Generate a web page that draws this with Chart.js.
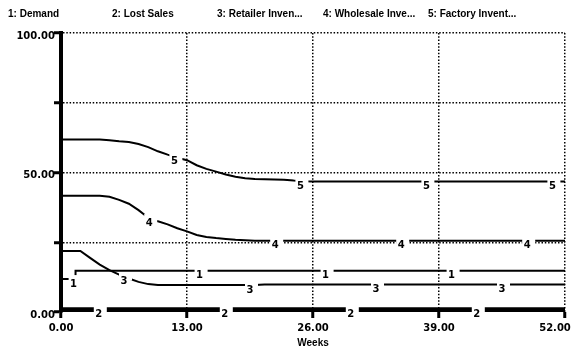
<!DOCTYPE html>
<html><head><meta charset="utf-8">
<script src="https://cdn.jsdelivr.net/npm/chart.js@4/dist/chart.umd.min.js"></script>
<style>html,body{margin:0;padding:0;background:#fff;}#wrap{width:573px;height:352px;position:relative;}</style>
</head><body><div id="wrap"><canvas id="c" width="573" height="352"></canvas></div>
<script>
const legendLabels = ['1: Demand','2: Lost Sales','3: Retailer Inven...','4: Wholesale Inve...','5: Factory Invent...'];
const weeks = [0,1,2,3,4,5,6,7,8,9,10,11,12,13,14,15,16,17,18,19,20,21,22,23,24,25,26,27,28,29,30,31,32,33,34,35,36,37,38,39,40,41,42,43,44,45,46,47,48,49,50,51,52];
const demand = [11.8,11.8,14.8,14.8,14.8,14.8,14.8,14.8,14.8,14.8,14.8,14.8,14.8,14.8,14.8,14.8,14.8,14.8,14.8,14.8,14.8,14.8,14.8,14.8,14.8,14.8,14.8,14.8,14.8,14.8,14.8,14.8,14.8,14.8,14.8,14.8,14.8,14.8,14.8,14.8,14.8,14.8,14.8,14.8,14.8,14.8,14.8,14.8,14.8,14.8,14.8,14.8,14.8];
const lostSales = [0.8,0.8,0.8,0.8,0.8,0.8,0.8,0.8,0.8,0.8,0.8,0.8,0.8,0.8,0.8,0.8,0.8,0.8,0.8,0.8,0.8,0.8,0.8,0.8,0.8,0.8,0.8,0.8,0.8,0.8,0.8,0.8,0.8,0.8,0.8,0.8,0.8,0.8,0.8,0.8,0.8,0.8,0.8,0.8,0.8,0.8,0.8,0.8,0.8,0.8,0.8,0.8,0.8];
const retailerInv = [21.9,21.9,21.9,19.4,17.0,15.0,13.4,12.0,10.8,10.0,9.7,9.7,9.7,9.7,9.7,9.7,9.7,9.7,9.7,9.7,9.7,9.9,9.9,9.9,9.9,9.9,9.9,9.9,9.9,9.9,9.9,9.9,9.9,9.9,9.9,9.9,9.9,9.9,9.9,9.9,9.9,9.9,9.9,9.9,9.9,9.9,9.9,9.9,9.9,9.9,9.9,9.9,9.9];
const wholesaleInv = [41.7,41.7,41.7,41.7,41.7,41.3,40.2,38.8,36.5,33.8,32.5,31.4,30.0,28.9,27.6,26.9,26.5,26.2,25.9,25.7,25.5,25.5,25.5,25.5,25.5,25.5,25.5,25.5,25.5,25.5,25.5,25.5,25.5,25.5,25.5,25.5,25.5,25.5,25.5,25.5,25.5,25.5,25.5,25.5,25.5,25.5,25.5,25.5,25.5,25.5,25.5,25.5,25.5];
const factoryInv = [61.8,61.8,61.8,61.8,61.8,61.6,61.2,60.9,60.2,59.1,57.6,56.4,55.3,54.4,52.6,51.3,50.3,49.3,48.5,47.9,47.7,47.6,47.5,47.4,47.1,46.9,46.8,46.8,46.8,46.8,46.8,46.8,46.8,46.8,46.8,46.8,46.8,46.8,46.8,46.8,46.8,46.8,46.8,46.8,46.8,46.8,46.8,46.8,46.8,46.8,46.8,46.8,46.8];
const seriesMarkers = ['1','2','3','4','5'];
const xTicks = [0,13,26,39,52];
const yTicks = [0,25,50,75,100];

const seriesList = [demand, lostSales, retailerInv, wholesaleInv, factoryInv];
function pts(arr){ return weeks.map((w,i)=>({x:w,y:arr[i]})); }

const numFont = {family:'"DejaVu Sans"', size:10, weight:'bold'};

const markerPlugin = {
  id:'markers',
  afterDatasetsDraw(chart){
    const {ctx, scales:{x,y}} = chart;
    ctx.save();
    ctx.font = 'bold 10px "DejaVu Sans"';
    ctx.textAlign = 'center';
    ctx.textBaseline = 'middle';
    seriesList.forEach((arr, i) => {
      const ds = chart.data.datasets[i];
      for (let j = 0; j < 4; j++) {
        const t = 1.3 + 2.6 * i + 13 * j;
        const k = Math.floor(t), f = t - k;
        let v;
        if (ds.stepped) v = f < 0.5 ? arr[k] : arr[k+1];
        else v = arr[k] + f * (arr[k+1] - arr[k]);
        const px = x.getPixelForValue(t), py = y.getPixelForValue(v);
        ctx.fillStyle = '#fff';
        ctx.fillRect(px - 5, py - 4, 13, 8);
        ctx.fillStyle = '#000';
        ctx.fillText(seriesMarkers[i], px, py + 5);
      }
    });
    ctx.restore();
  },
  afterDraw(chart){
    const ctx = chart.ctx;
    ctx.save();
    ctx.font = 'bold 10px "Liberation Sans"';
    ctx.fillStyle = '#000';
    ctx.textBaseline = 'middle';
    ctx.textAlign = 'left';
    const xs = [8,112,217,323,428];
    legendLabels.forEach((s,i)=>ctx.fillText(s, xs[i], 14));
    ctx.restore();
  }
};

new Chart(document.getElementById('c'), {
  type:'line',
  data:{
    datasets: seriesList.map((arr,i)=>({
      label: legendLabels[i],
      data: pts(arr),
      borderColor:'#000',
      borderWidth: i===1 ? 5 : 2,
      pointRadius:0,
      tension:0,
      fill:false,
      stepped: i===0 ? 'middle' : false
    }))
  },
  options:{
    responsive:false, animation:false,
    devicePixelRatio:1,
    layout:{padding:{top:33,right:8,left:0,bottom:0}},
    plugins:{legend:{display:false}, tooltip:{enabled:false}},
    scales:{
      x:{
        type:'linear', min:0, max:52,
        afterFit(s){ s.height = 40; s.paddingRight = 0; s.paddingLeft = 0; },
        afterBuildTicks(s){ s.ticks = xTicks.map(v=>({value:v})); },
        ticks:{ font:numFont, color:'#000', padding:4, maxRotation:0,
          callback:v=> v===52 ? '52.00\u2003\u2003' : Number(v).toFixed(2) },
        grid:{ color:c=>c.tick && c.tick.value===0 ? 'rgba(0,0,0,0)' : '#000', lineWidth:1.5,
          tickColor:'#000', tickWidth:3, tickLength:6, drawTicks:true },
        border:{ display:false, dash:[1.5,1.8] },
        title:{ display:true, text:'Weeks', color:'#000', font:{family:'"Liberation Sans"', size:10, weight:'bold'}, padding:{top:0,bottom:3} }
      },
      y:{
        type:'linear', min:0, max:100,
        afterFit(s){ s.width = 61; },
        afterBuildTicks(s){ s.ticks = yTicks.map(v=>({value:v})); },
        ticks:{ font:numFont, color:'#000', padding:-1, labelOffset:3,
          callback:v=> (v % 50 === 0) ? Number(v).toFixed(2) : '' },
        grid:{ color:c=>c.tick && c.tick.value===0 ? 'rgba(0,0,0,0)' : '#000', lineWidth:1.5,
          tickColor:'#000', tickWidth:3, tickLength:7, drawTicks:true },
        border:{ display:true, color:'#000', width:4, dash:[1.5,1.8] }
      }
    }
  },
  plugins:[markerPlugin]
});
</script>
</body></html>
